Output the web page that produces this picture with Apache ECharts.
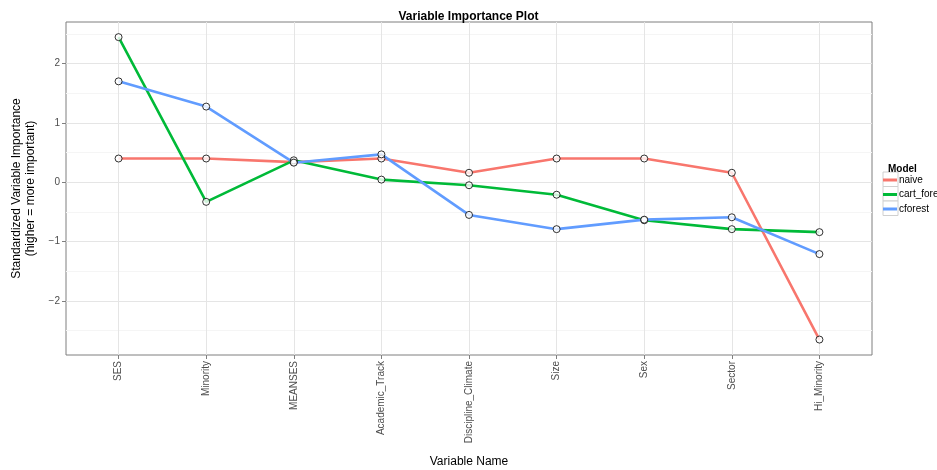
<!DOCTYPE html>
<html>
<head>
<meta charset="utf-8">
<script src="https://cdn.jsdelivr.net/npm/echarts@6/dist/echarts.min.js"></script>
<style>html,body{margin:0;padding:0;background:#fff}#c{width:937px;height:470px}</style>
</head>
<body>
<div id="c"></div>
<script>
const categories = ["SES","Minority","MEANSES","Academic_Track","Discipline_Climate","Size","Sex","Sector","Hi_Minority"];
const models = ["naive","cart_forest","cforest"];
const naive = [0.40, 0.40, 0.34, 0.40, 0.16, 0.40, 0.40, 0.16, -2.65];
const cartForest = [2.445, -0.33, 0.37, 0.045, -0.05, -0.21, -0.64, -0.79, -0.84];
const cforest = [1.70, 1.275, 0.33, 0.47, -0.55, -0.79, -0.63, -0.59, -1.21];
const yTicks = [-2, -1, 0, 1, 2];
const yMinor = [-2.5, -1.5, -0.5, 0.5, 1.5, 2.5];
const colors = ["#F8766D", "#00BA38", "#619CFF"];

const FONT = "Liberation Sans, Arial, sans-serif";
const seriesVals = [naive, cartForest, cforest];
const xIdx = categories.map((c, i) => i);
const toPts = vals => vals.map((v, i) => [i, v]);

const series = [];
seriesVals.forEach((vals, k) => {
  series.push({
    name: models[k], type: 'line', data: toPts(vals), showSymbol: false,
    lineStyle: { width: 2.6, color: colors[k] }, itemStyle: { color: colors[k] },
    z: 2, animation: false
  });
});
seriesVals.forEach((vals, k) => {
  series.push({
    name: models[k] + '_pts', type: 'scatter', data: toPts(vals),
    symbol: 'circle', symbolSize: 7,
    itemStyle: { color: '#fff', borderColor: '#000', borderWidth: 1 },
    z: 5, animation: false
  });
});

const keyBoxes = models.map((m, k) => ({
  type: 'rect', left: 882.5, top: 171.5 + k * 14.5, z: 0,
  shape: { width: 15, height: 14.5 },
  style: { fill: '#fff', stroke: '#d0d0d0', lineWidth: 1 }
}));

const chart = echarts.init(document.getElementById('c'), null, { renderer: 'canvas' });
chart.setOption({
  animation: false,
  color: colors,
  textStyle: { fontFamily: FONT },
  title: [
    { text: 'Variable Importance Plot', left: 'center', top: 6,
      textStyle: { fontSize: 12, fontWeight: 'bold', color: '#000', fontFamily: FONT } },
    { text: 'Model', left: 883, top: 159,
      textStyle: { fontSize: 10, fontWeight: 'bold', color: '#000', fontFamily: FONT } }
  ],
  graphic: keyBoxes,
  legend: {
    data: models, orient: 'vertical', left: 883, top: 175, z: 10, padding: 0,
    icon: 'rect', itemWidth: 14, itemHeight: 3, itemGap: 4.5,
    textStyle: { fontSize: 10, color: '#000', fontFamily: FONT, padding: [0, 0, 0, -3] }
  },
  grid: { left: 66, right: 65, top: 22, bottom: 115, outerBoundsMode: 'none', containLabel: false,
    show: true, borderColor: '#7f7f7f', borderWidth: 1, backgroundColor: '#fff' },
  xAxis: {
    type: 'value', min: -0.6, max: 8.6,
    name: 'Variable Name', nameLocation: 'middle', nameGap: 101,
    nameTextStyle: { fontSize: 12, color: '#000', fontFamily: FONT },
    axisLine: { show: false, onZero: false },
    axisTick: { show: true, length: 4, customValues: xIdx, lineStyle: { color: '#7f7f7f' } },
    axisLabel: { customValues: xIdx, rotate: 90, fontSize: 10, color: '#4d4d4d', margin: 6,
      formatter: v => categories[Math.round(v)] },
    splitLine: { show: true, lineStyle: { color: '#e5e5e5', width: 1 } }
  },
  yAxis: [{
    type: 'value', min: -2.91, max: 2.70,
    name: 'Standardized Variable Importance\n(higher = more important)',
    nameLocation: 'middle', nameGap: 27, nameRotate: 90,
    nameTextStyle: { fontSize: 12, color: '#000', fontFamily: FONT, lineHeight: 14 },
    axisLine: { show: false, onZero: false },
    axisTick: { show: true, length: 4, customValues: yTicks, lineStyle: { color: '#7f7f7f' } },
    axisLabel: { customValues: yTicks, fontSize: 10, color: '#4d4d4d', margin: 6,
      formatter: v => String(v).replace('-', '\u2212') },
    splitLine: { show: true, lineStyle: { color: '#e5e5e5', width: 1 } }
  }, {
    type: 'value', min: -2.91, max: 2.70, position: 'left',
    axisLine: { show: false, onZero: false },
    axisTick: { show: false, customValues: yMinor },
    axisLabel: { show: false, customValues: yMinor },
    splitLine: { show: true, lineStyle: { color: '#f5f5f5', width: 1 } }
  }],
  series: series
});
</script>
</body>
</html>
